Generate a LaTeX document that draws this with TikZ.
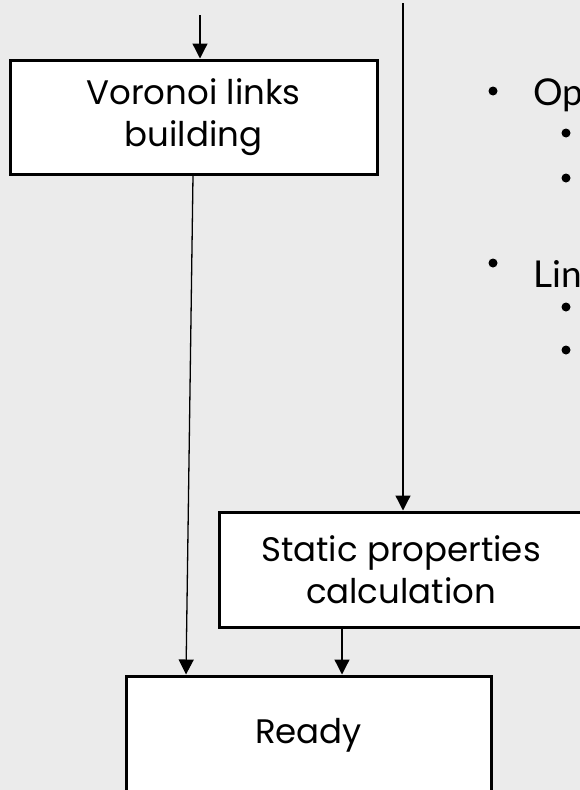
\documentclass[tikz,border=0pt]{standalone}
\usepackage{fontspec}
\setmainfont{Poppins}
\newfontfamily\listfont{Lato}
\usetikzlibrary{arrows.meta}
\definecolor{pagebg}{HTML}{EBEBEB}
\tikzset{
  stage/.style={draw=black, line width=3pt, fill=white, align=center,
    inner sep=0pt, font=\fontsize{34}{42}\selectfont},
  flow/.style={draw=black, line width=1.3pt,
    -{Triangle[length=15pt,width=15pt]}},
  dot/.style={circle, fill=black, inner sep=0pt, minimum size=9pt},
  itemtext/.style={anchor=base west, inner sep=0pt,
    font=\listfont\fontsize{37}{42}\selectfont}
}
\begin{document}
\begin{tikzpicture}[x=1pt, y=-1pt]
  % page area
  \fill[pagebg] (0,0) rectangle (580,790);
  \useasboundingbox (0,0) rectangle (580,790);
  \clip (0,0) rectangle (580,790);

  % process stages
  \node[stage, minimum width=367pt, minimum height=114pt] (vor)
    at (193.5,117) {\raisebox{-4pt}{Voronoi links}\\\raisebox{-4pt}{building}};
  \node[stage, minimum width=364pt, minimum height=115pt] (stat)
    at (401,569.5) {Static properties\\calculation};
  \node[stage, minimum width=365pt, minimum height=118pt] (ready)
    at (308.5,735) {Ready};

  % connector columns
  \coordinate (inA) at (200,15);
  \coordinate (inB) at (403,3);
  \coordinate (colL) at (186,0);
  \coordinate (colR) at (342,0);

  \draw[flow] (inA) -- (inA |- vor.north);
  \draw[flow] (inB) -- (inB |- stat.north);
  \draw[flow] (vor.south -| 193,0) -- (ready.north -| colL);
  \draw[flow] (stat.south -| colR) -- (ready.north -| colR);

  % bullet list at the right edge
  \node[dot] (b1) at (493,91) {};
  \node[itemtext] (t1) at (533,105) {Op};
  \node[dot] (b11) at (566,133) {};
  \node[dot] (b12) at (566,178) {};
  \node[dot] (b2) at (493,263) {};
  \node[itemtext] (t2) at (533,287) {Lin};
  \node[dot] (b21) at (566,307) {};
  \node[dot] (b22) at (566,350) {};
\end{tikzpicture}
\end{document}
